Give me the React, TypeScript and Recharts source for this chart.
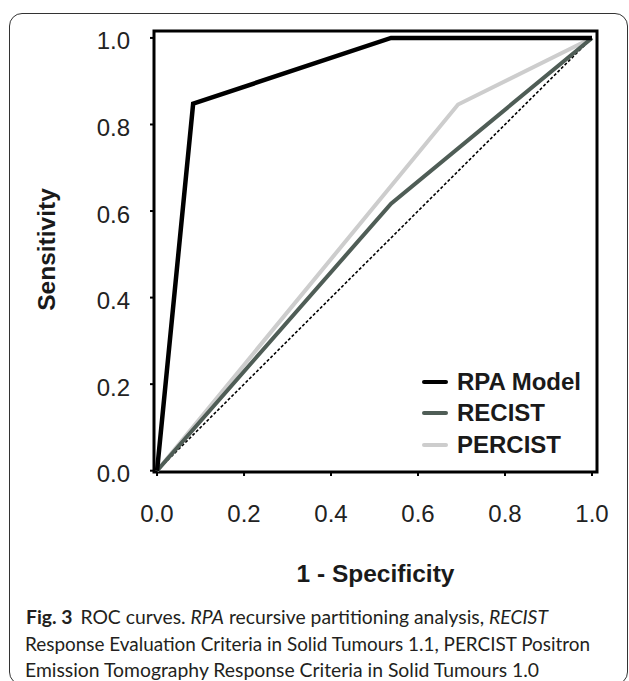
import { LineChart, Line, XAxis, YAxis, ReferenceArea, Legend, Label } from "recharts";

// --- data ---
const axisTicks = [0, 0.2, 0.4, 0.6, 0.8, 1.0];

const rpaFpr = [0, 0.083, 0.538, 1];
const rpaTpr = [0, 0.848, 1, 1];

const recistFpr = [0, 0.538, 1];
const recistTpr = [0, 0.617, 1];

const percistFpr = [0, 0.692, 1];
const percistTpr = [0, 0.846, 1];

const chanceFpr = [0, 1];
const chanceTpr = [0, 1];

const seriesNames = ["RPA Model", "RECIST", "PERCIST"];
const seriesColors = ["#000000", "#4f5d56", "#cdcdcd"];

// domain is a bit wider than 0..1 so the black frame sits just outside the data
const xDomain: [number, number] = [-0.007, 1.0115];
const yDomain: [number, number] = [-0.003, 1.016];

const toPoints = (xs: number[], ys: number[]) => xs.map((x, i) => ({ x, y: ys[i] }));

const rpaData = toPoints(rpaFpr, rpaTpr);
const recistData = toPoints(recistFpr, recistTpr);
const percistData = toPoints(percistFpr, percistTpr);
const chanceData = toPoints(chanceFpr, chanceTpr);

const AXIS_FONT = "'Liberation Sans', Arial, sans-serif";
const CAPTION_FONT = "Lato, 'Open Sans', sans-serif";

const LegendBox = () => (
  <div style={{ fontFamily: AXIS_FONT }}>
    {seriesNames.map((name, i) => (
      <div key={name} style={{ display: "flex", alignItems: "center", height: 31.5 }}>
        <span
          style={{
            display: "inline-block",
            width: 26,
            height: 4,
            background: seriesColors[i],
            borderRadius: 2,
            marginRight: 9,
          }}
        />
        <span style={{ fontSize: 24, fontWeight: "bold", color: "#1a1a1a", lineHeight: "24px" }}>{name}</span>
      </div>
    ))}
  </div>
);

const YTitle = (props: any) => {
  const vb = props.viewBox || { x: 0, y: 0, width: 0, height: 0 };
  const cx = vb.x + 46;
  const cy = vb.y + vb.height / 2 - 2;
  return (
    <text
      x={cx}
      y={cy}
      transform={`rotate(-90 ${cx} ${cy})`}
      textAnchor="middle"
      dominantBaseline="central"
      fontFamily={AXIS_FONT}
      fontSize={24.5}
      fontWeight="bold"
      fill="#1a1a1a"
    >
      Sensitivity
    </text>
  );
};

export default function App() {
  return (
    <div
      style={{
        position: "absolute",
        left: 0,
        top: 0,
        width: 629,
        height: 681,
        background: "#fff",
        overflow: "hidden",
      }}
    >
      {/* rounded figure frame */}
      <div
        style={{
          position: "absolute",
          left: 9,
          top: 13,
          width: 619,
          height: 672,
          boxSizing: "border-box",
          border: "1.3px solid #333",
          borderRadius: 13,
        }}
      />

      <div style={{ position: "absolute", left: 0, top: 0 }}>
        <LineChart width={629} height={681} margin={{ top: 31, right: 32, left: 0, bottom: 99 }}>
          <XAxis
            type="number"
            dataKey="x"
            domain={xDomain}
            allowDataOverflow
            ticks={axisTicks}
            tickFormatter={(v: number) => v.toFixed(1)}
            axisLine={false}
            tickLine={{ stroke: "#000", strokeWidth: 2 }}
            tickSize={4}
            tickMargin={29}
            height={110}
            tick={{ fill: "#222", fontSize: 24, fontFamily: AXIS_FONT }}
          >
            <Label
              value="1 - Specificity"
              position="insideBottom"
              offset={0}
              fill="#1a1a1a"
              fontSize={24.5}
              fontWeight="bold"
              fontFamily={AXIS_FONT}
            />
          </XAxis>
          <YAxis
            type="number"
            dataKey="y"
            domain={yDomain}
            allowDataOverflow
            ticks={axisTicks}
            tickFormatter={(v: number) => v.toFixed(1)}
            axisLine={false}
            tickLine={{ stroke: "#000", strokeWidth: 2 }}
            tickSize={4}
            tickMargin={20}
            width={154}
            tick={{ fill: "#222", fontSize: 24, fontFamily: AXIS_FONT, dy: 3 }}
          >
            <Label content={YTitle} />
          </YAxis>

          {/* plot frame */}
          <ReferenceArea
            x1={xDomain[0]}
            x2={xDomain[1]}
            y1={yDomain[0]}
            y2={yDomain[1]}
            fill="none"
            fillOpacity={0}
            stroke="#000"
            strokeWidth={3}
          />

          <Line
            data={chanceData}
            dataKey="y"
            type="linear"
            stroke="#000"
            strokeWidth={1.6}
            strokeDasharray="3 2"
            dot={false}
            activeDot={false}
            legendType="none"
            isAnimationActive={false}
          />
          <Line
            data={percistData}
            dataKey="y"
            name={seriesNames[2]}
            type="linear"
            stroke={seriesColors[2]}
            strokeWidth={4}
            dot={false}
            activeDot={false}
            isAnimationActive={false}
          />
          <Line
            data={recistData}
            dataKey="y"
            name={seriesNames[1]}
            type="linear"
            stroke={seriesColors[1]}
            strokeWidth={4}
            dot={false}
            activeDot={false}
            isAnimationActive={false}
          />
          <Line
            data={rpaData}
            dataKey="y"
            name={seriesNames[0]}
            type="linear"
            stroke={seriesColors[0]}
            strokeWidth={4.5}
            strokeLinejoin="miter"
            dot={false}
            activeDot={false}
            isAnimationActive={false}
          />

          <Legend
            layout="vertical"
            align="center"
            verticalAlign="middle"
            content={<LegendBox />}
            wrapperStyle={{ left: 422, top: 366, width: "auto" }}
          />
        </LineChart>
      </div>

      {/* figure caption */}
      <svg
        width={629}
        height={681}
        style={{ position: "absolute", left: 0, top: 0, pointerEvents: "none" }}
        fontFamily={CAPTION_FONT}
        fontSize={19.5}
        fill="#231f20"
      >
        <text x={26} y={624} textLength={522} lengthAdjust="spacingAndGlyphs">
          <tspan fontWeight="bold">Fig. 3</tspan>
          <tspan dx={8}>ROC curves. </tspan>
          <tspan fontStyle="italic">RPA</tspan>
          <tspan> recursive partitioning analysis, </tspan>
          <tspan fontStyle="italic">RECIST</tspan>
        </text>
        <text x={25} y={651} textLength={565} lengthAdjust="spacingAndGlyphs">
          Response Evaluation Criteria in Solid Tumours 1.1, PERCIST Positron
        </text>
        <text x={25} y={677} textLength={514} lengthAdjust="spacingAndGlyphs">
          Emission Tomography Response Criteria in Solid Tumours 1.0
        </text>
      </svg>
    </div>
  );
}
